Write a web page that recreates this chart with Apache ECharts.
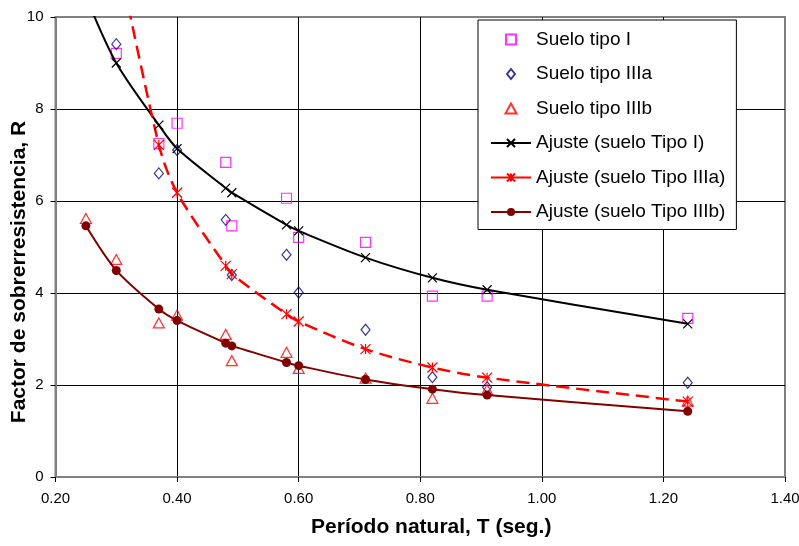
<!DOCTYPE html>
<html>
<head>
<meta charset="utf-8">
<script src="https://cdn.jsdelivr.net/npm/echarts@6/dist/echarts.min.js"></script>
<style>
    html, body { margin: 0; padding: 0; background: #fff; }
    #chart { width: 799px; height: 546px; }
</style>
</head>
<body>
<div id="chart"></div>
<script>
// periodos de las curvas de ajuste y de los puntos medidos
var periodosAjuste = [0.25, 0.30, 0.37, 0.40, 0.48, 0.49, 0.58, 0.60, 0.71, 0.82, 0.91, 1.24];
var periodosSuelo = [0.30, 0.37, 0.40, 0.48, 0.49, 0.58, 0.60, 0.71, 0.82, 0.91, 1.24];
var periodosAjusteIIIa = [0.30, 0.37, 0.40, 0.48, 0.49, 0.58, 0.60, 0.71, 0.82, 0.91, 1.24];

// valores medidos
var sueloI = [9.21, 7.25, 7.69, 6.84, 5.46, 6.06, 5.21, 5.10, 3.93, 3.93, 3.45];
var sueloIIIa = [9.41, 6.60, 7.11, 5.59, 4.39, 4.83, 4.01, 3.20, 2.17, 1.95, 2.05];
var sueloIIIb = [5.62, 4.73, 3.35, 3.52, 3.10, 2.53, 2.71, 2.36, 2.15, 1.71, 1.90, 1.65];

// ajustes
var ajusteI = [10.45, 9.00, 7.65, 7.14, 6.28, 6.18, 5.48, 5.35, 4.77, 4.33, 4.07, 3.33];
var ajusteIIIa = [11.5, 7.22, 6.18, 4.59, 4.41, 3.54, 3.38, 2.78, 2.38, 2.16, 1.64];
var ajusteIIIb = [5.46, 4.49, 3.65, 3.40, 2.91, 2.85, 2.49, 2.42, 2.12, 1.91, 1.78, 1.43];

var xTicks = { min: 0.2, max: 1.4, step: 0.2 };
var yTicks = { min: 0, max: 10, step: 2 };

function pares(xs, ys) {
    return xs.map(function (x, i) { return [x, ys[i]]; });
}

var fuente = 'Liberation Sans, Arial, sans-serif';
var chart = echarts.init(document.getElementById('chart'));

chart.setOption({
    animation: false,
    backgroundColor: '#fff',
    grid: {
        left: 55.5,
        right: 14,
        top: 17,
        bottom: 69,
        containLabel: false,
        outerBoundsMode: 'none',
        show: true,
        borderColor: '#808080',
        borderWidth: 2
    },
    legend: {
        orient: 'vertical',
        left: 478,
        top: 20,
        backgroundColor: '#fff',
        borderColor: '#000',
        borderWidth: 1,
        padding: [10, 11, 8, 12],
        itemGap: 15.5,
        itemWidth: 40,
        itemHeight: 10,
        itemTextGap: 5,
        symbolKeepAspect: true,
        textStyle: { fontFamily: fuente, fontSize: 19, color: '#000' },
        data: [
            // iconos como path para que conserven la proporcion
            { name: 'Suelo tipo I', icon: 'path://M0,0L10,0L10,10L0,10Z' },
            { name: 'Suelo tipo IIIa', icon: 'path://M4,0L8,5L4,10L0,5Z' },
            { name: 'Suelo tipo IIIb', icon: 'path://M5,0L10,9L0,9Z' },
            'Ajuste (suelo Tipo I)',
            { name: 'Ajuste (suelo Tipo IIIa)', lineStyle: { type: 'solid' } },
            'Ajuste (suelo Tipo IIIb)'
        ]
    },
    xAxis: {
        type: 'value',
        min: xTicks.min,
        max: xTicks.max,
        interval: xTicks.step,
        name: 'Período natural, T (seg.)',
        nameLocation: 'middle',
        nameGap: 40,
        nameMoveOverlap: false,
        nameTextStyle: { fontFamily: fuente, fontSize: 21, fontWeight: 'bold', color: '#000', padding: [0, 0, 0, 22] },
        axisLine: { lineStyle: { color: '#808080', width: 2 } },
        axisTick: { show: true, length: 5, lineStyle: { color: '#000' } },
        axisLabel: {
            fontFamily: fuente, fontSize: 15, color: '#000', margin: 14,
            formatter: function (v) { return v.toFixed(2); }
        },
        splitLine: { show: true, showMinLine: false, showMaxLine: false, lineStyle: { color: '#000', width: 1 } }
    },
    yAxis: {
        type: 'value',
        min: yTicks.min,
        max: yTicks.max,
        interval: yTicks.step,
        name: 'Factor de sobrerresistencia, R',
        nameLocation: 'middle',
        nameRotate: 90,
        nameGap: 26,
        nameMoveOverlap: false,
        nameTextStyle: { fontFamily: fuente, fontSize: 21, fontWeight: 'bold', color: '#000', padding: [0, 50, 0, 0] },
        axisLine: { show: true, lineStyle: { color: '#808080', width: 2 } },
        axisTick: { show: true, length: 5, lineStyle: { color: '#000' } },
        axisLabel: { fontFamily: fuente, fontSize: 15, color: '#000', margin: 12 },
        splitLine: { show: true, showMinLine: false, showMaxLine: false, lineStyle: { color: '#000', width: 1 } }
    },
    series: [
        {
            name: 'Suelo tipo I',
            type: 'scatter',
            symbol: 'rect',
            symbolSize: 10,
            itemStyle: { color: 'rgba(0,0,0,0)', borderColor: '#ff00ff', borderWidth: 1.2 },
            data: pares(periodosSuelo, sueloI)
        },
        {
            name: 'Suelo tipo IIIa',
            type: 'scatter',
            symbol: 'diamond',
            symbolSize: [9, 11],
            itemStyle: { color: 'rgba(0,0,0,0)', borderColor: '#000080', borderWidth: 1.2 },
            data: pares(periodosSuelo, sueloIIIa)
        },
        {
            name: 'Suelo tipo IIIb',
            type: 'scatter',
            symbol: 'triangle',
            symbolSize: [11, 10],
            itemStyle: { color: 'rgba(0,0,0,0)', borderColor: '#ff0000', borderWidth: 1.2 },
            data: pares(periodosAjuste, sueloIIIb)
        },
        {
            name: 'Ajuste (suelo Tipo I)',
            type: 'line',
            smooth: 0.3,
            symbol: 'path://M0,0L10,10M10,0L0,10',
            symbolSize: 9,
            lineStyle: { color: '#000', width: 2 },
            itemStyle: { color: 'rgba(0,0,0,0)', borderColor: '#000', borderWidth: 1.2 },
            data: pares(periodosAjuste, ajusteI)
        },
        {
            name: 'Ajuste (suelo Tipo IIIa)',
            type: 'line',
            smooth: 0.3,
            symbol: 'path://M0,0L10,10M10,0L0,10M5,0L5,10',
            symbolSize: 10,
            lineStyle: { color: '#ff0000', width: 2.5, type: [13, 7] },
            itemStyle: { color: 'rgba(0,0,0,0)', borderColor: '#ff0000', borderWidth: 1.2 },
            data: pares(periodosAjusteIIIa, ajusteIIIa)
        },
        {
            name: 'Ajuste (suelo Tipo IIIb)',
            type: 'line',
            smooth: 0.3,
            symbol: 'circle',
            symbolSize: 9,
            lineStyle: { color: '#800000', width: 2 },
            itemStyle: { color: '#800000' },
            data: pares(periodosAjuste, ajusteIIIb)
        }
    ]
});
</script>
</body>
</html>
